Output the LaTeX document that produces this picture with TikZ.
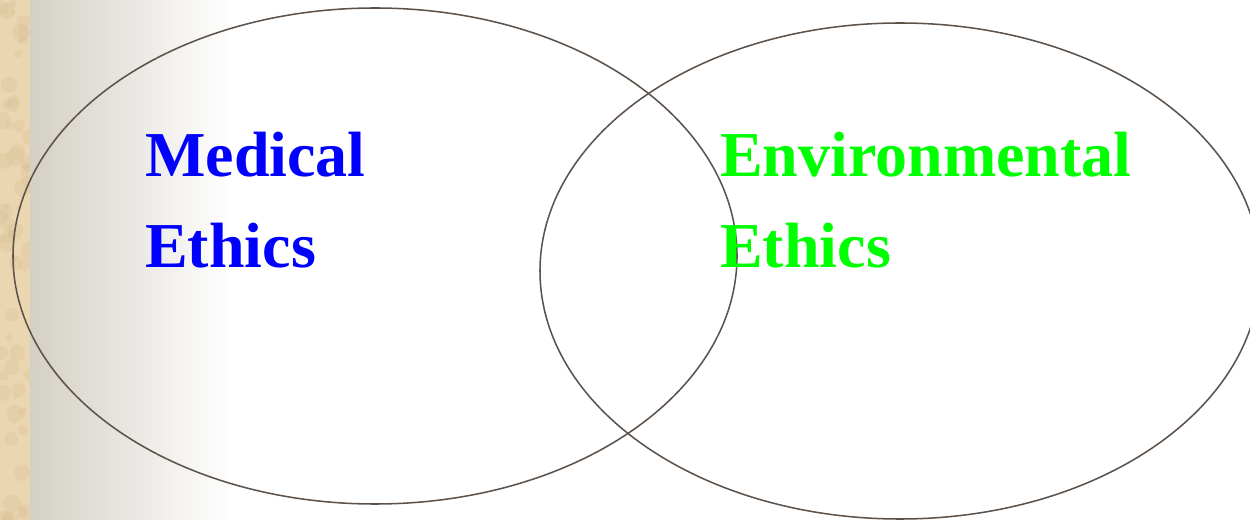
\documentclass[tikz,border=0pt]{standalone}
\usepackage{fontspec}
\setmainfont{Liberation Serif}
\usepackage{tikz}
\usetikzlibrary{shapes,backgrounds,positioning}

\definecolor{parchment}{RGB}{234,214,176}
\definecolor{parchdark}{RGB}{214,190,146}
\definecolor{fadegray}{RGB}{212,208,198}
\definecolor{ringline}{RGB}{92,82,74}
\definecolor{medblue}{RGB}{0,0,255}
\definecolor{envgreen}{RGB}{0,255,0}

\begin{document}
\begin{tikzpicture}[x=0.75pt, y=-0.75pt]
			\tikzstyle{Ring}	= [ellipse, draw=ringline, line width=1.15pt, inner sep=0pt]
			\tikzstyle{Label}	= [anchor=base west, inner sep=0pt, font=\fontsize{48}{58}\selectfont\bfseries]
			\tikzstyle{Med}		= [medblue]
			\tikzstyle{Env}		= [envgreen]
			
			\useasboundingbox (0,0) rectangle (1250,520);
			\fill[white] (0,0) rectangle (1250,520);
			\fill[parchment] (0,0) rectangle (30,520);
			% mottled paper strip
			\begin{scope}
				\clip (0,0) rectangle (30,520);
				\pgfmathsetseed{7}
				\foreach \i in {1,...,60} {
					\pgfmathsetmacro{\px}{random(0,30)}
					\pgfmathsetmacro{\py}{random(0,520)}
					\pgfmathsetmacro{\pr}{random(3,9)}
					\fill[parchdark, opacity=0.25] (\px,\py) circle (\pr);
				}
			\end{scope}
			\shade[left color=fadegray, right color=white] (30,0) rectangle (232,520);
			
			\node (medical) at (375, 256) [Ring, minimum width=543pt, minimum height=372pt] {};
			\node (environ) at (900, 271) [Ring, minimum width=540pt, minimum height=372pt] {};
			
			\node (med1) at (145, 177) [Label][Med] {Medical};
			\node (med2) at (145, 268) [Label][Med] {Ethics};
			\node (env1) at (720, 177) [Label][Env] {Environmental};
			\node (env2) at (720, 268) [Label][Env] {Ethics};
		\end{tikzpicture}
\end{document}
